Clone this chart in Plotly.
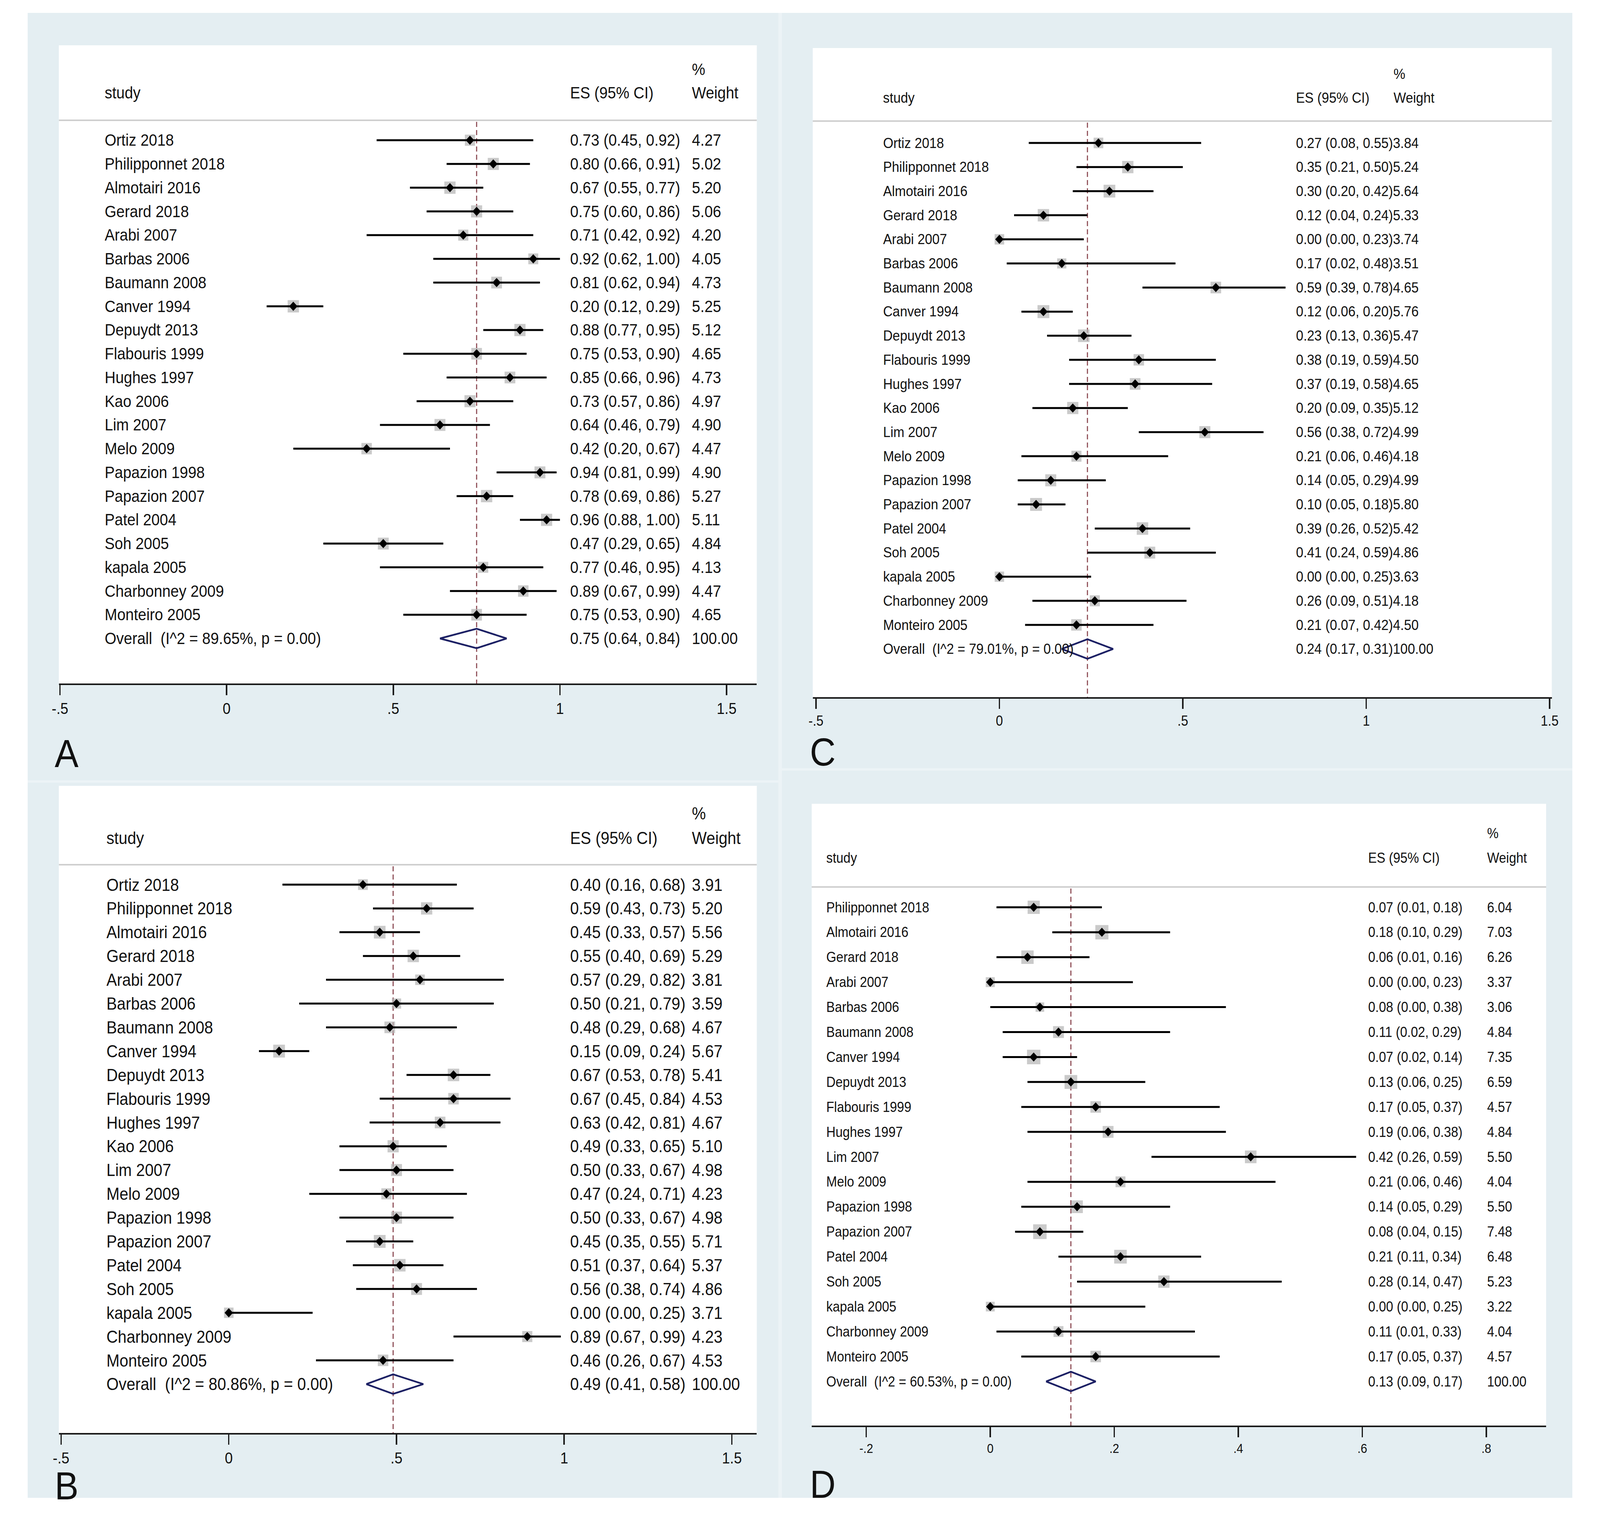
import math
import plotly.graph_objects as go

W, H = 4479, 3879

# ------------------------------------------------------------------ data
studies_abc = ["Ortiz 2018", "Philipponnet 2018", "Almotairi 2016", "Gerard 2018", "Arabi 2007",
               "Barbas 2006", "Baumann 2008", "Canver 1994", "Depuydt 2013", "Flabouris 1999",
               "Hughes 1997", "Kao 2006", "Lim 2007", "Melo 2009", "Papazion 1998", "Papazion 2007",
               "Patel 2004", "Soh 2005", "kapala 2005", "Charbonney 2009", "Monteiro 2005"]

es_A = [0.73, 0.80, 0.67, 0.75, 0.71, 0.92, 0.81, 0.20, 0.88, 0.75, 0.85, 0.73, 0.64, 0.42, 0.94, 0.78, 0.96, 0.47, 0.77, 0.89, 0.75]
lo_A = [0.45, 0.66, 0.55, 0.60, 0.42, 0.62, 0.62, 0.12, 0.77, 0.53, 0.66, 0.57, 0.46, 0.20, 0.81, 0.69, 0.88, 0.29, 0.46, 0.67, 0.53]
hi_A = [0.92, 0.91, 0.77, 0.86, 0.92, 1.00, 0.94, 0.29, 0.95, 0.90, 0.96, 0.86, 0.79, 0.67, 0.99, 0.86, 1.00, 0.65, 0.95, 0.99, 0.90]
w_A = [4.27, 5.02, 5.20, 5.06, 4.20, 4.05, 4.73, 5.25, 5.12, 4.65, 4.73, 4.97, 4.90, 4.47, 4.90, 5.27, 5.11, 4.84, 4.13, 4.47, 4.65]
overall_A = [0.75, 0.64, 0.84]
i2_A = 89.65

es_B = [0.40, 0.59, 0.45, 0.55, 0.57, 0.50, 0.48, 0.15, 0.67, 0.67, 0.63, 0.49, 0.50, 0.47, 0.50, 0.45, 0.51, 0.56, 0.00, 0.89, 0.46]
lo_B = [0.16, 0.43, 0.33, 0.40, 0.29, 0.21, 0.29, 0.09, 0.53, 0.45, 0.42, 0.33, 0.33, 0.24, 0.33, 0.35, 0.37, 0.38, 0.00, 0.67, 0.26]
hi_B = [0.68, 0.73, 0.57, 0.69, 0.82, 0.79, 0.68, 0.24, 0.78, 0.84, 0.81, 0.65, 0.67, 0.71, 0.67, 0.55, 0.64, 0.74, 0.25, 0.99, 0.67]
w_B = [3.91, 5.20, 5.56, 5.29, 3.81, 3.59, 4.67, 5.67, 5.41, 4.53, 4.67, 5.10, 4.98, 4.23, 4.98, 5.71, 5.37, 4.86, 3.71, 4.23, 4.53]
overall_B = [0.49, 0.41, 0.58]
i2_B = 80.86

es_C = [0.27, 0.35, 0.30, 0.12, 0.00, 0.17, 0.59, 0.12, 0.23, 0.38, 0.37, 0.20, 0.56, 0.21, 0.14, 0.10, 0.39, 0.41, 0.00, 0.26, 0.21]
lo_C = [0.08, 0.21, 0.20, 0.04, 0.00, 0.02, 0.39, 0.06, 0.13, 0.19, 0.19, 0.09, 0.38, 0.06, 0.05, 0.05, 0.26, 0.24, 0.00, 0.09, 0.07]
hi_C = [0.55, 0.50, 0.42, 0.24, 0.23, 0.48, 0.78, 0.20, 0.36, 0.59, 0.58, 0.35, 0.72, 0.46, 0.29, 0.18, 0.52, 0.59, 0.25, 0.51, 0.42]
w_C = [3.84, 5.24, 5.64, 5.33, 3.74, 3.51, 4.65, 5.76, 5.47, 4.50, 4.65, 5.12, 4.99, 4.18, 4.99, 5.80, 5.42, 4.86, 3.63, 4.18, 4.50]
overall_C = [0.24, 0.17, 0.31]
i2_C = 79.01

studies_D = ["Philipponnet 2018", "Almotairi 2016", "Gerard 2018", "Arabi 2007", "Barbas 2006",
             "Baumann 2008", "Canver 1994", "Depuydt 2013", "Flabouris 1999", "Hughes 1997",
             "Lim 2007", "Melo 2009", "Papazion 1998", "Papazion 2007", "Patel 2004", "Soh 2005",
             "kapala 2005", "Charbonney 2009", "Monteiro 2005"]
es_D = [0.07, 0.18, 0.06, 0.00, 0.08, 0.11, 0.07, 0.13, 0.17, 0.19, 0.42, 0.21, 0.14, 0.08, 0.21, 0.28, 0.00, 0.11, 0.17]
lo_D = [0.01, 0.10, 0.01, 0.00, 0.00, 0.02, 0.02, 0.06, 0.05, 0.06, 0.26, 0.06, 0.05, 0.04, 0.11, 0.14, 0.00, 0.01, 0.05]
hi_D = [0.18, 0.29, 0.16, 0.23, 0.38, 0.29, 0.14, 0.25, 0.37, 0.38, 0.59, 0.46, 0.29, 0.15, 0.34, 0.47, 0.25, 0.33, 0.37]
w_D = [6.04, 7.03, 6.26, 3.37, 3.06, 4.84, 7.35, 6.59, 4.57, 4.84, 5.50, 4.04, 5.50, 7.48, 6.48, 5.23, 3.22, 4.04, 4.57]
overall_D = [0.13, 0.09, 0.17]
i2_D = 60.53

ticks_abc = [-0.5, 0, 0.5, 1, 1.5]
ticklabels_abc = ["-.5", "0", ".5", "1", "1.5"]
ticks_D = [-0.2, 0, 0.2, 0.4, 0.6, 0.8]
ticklabels_D = ["-.2", "0", ".2", ".4", ".6", ".8"]

# ------------------------------------------------------------------ geometry (pixels)
FONT = "Liberation Sans"
panels = [
    dict(letter="A", studies=studies_abc, es=es_A, lo=lo_A, hi=hi_A, w=w_A, ov=overall_A, i2=i2_A,
         ticks=ticks_abc, ticktext=ticklabels_abc,
         x0=146, x1=2117, top=116, axis=1750, hline=308, row0=359, dy=60.75, zero=617, unit=943,
         lab_x=273, es_x=1588, wt_x=1932, pct_y=178, head_y=238, fs=42, tfs=40,
         let_x=132, let_y=1929, concat=False),
    dict(letter="B", studies=studies_abc, es=es_B, lo=lo_B, hi=hi_B, w=w_B, ov=overall_B, i2=i2_B,
         ticks=ticks_abc, ticktext=ticklabels_abc,
         x0=146, x1=2117, top=2012, axis=3669, hline=2214, row0=2265, dy=60.9, zero=623, unit=949,
         lab_x=278, es_x=1588, wt_x=1932, pct_y=2082, head_y=2145, fs=44, tfs=40,
         let_x=132, let_y=3804, concat=False),
    dict(letter="C", studies=studies_abc, es=es_C, lo=lo_C, hi=hi_C, w=w_C, ov=overall_C, i2=i2_C,
         ticks=ticks_abc, ticktext=ticklabels_abc,
         x0=2275, x1=4362, top=123, axis=1785, hline=310, row0=366, dy=61.7, zero=2799, unit=1038,
         lab_x=2472, es_x=3638, wt_x=3913, pct_y=189, head_y=250, fs=37, tfs=36,
         let_x=2265, let_y=1925, concat=True),
    dict(letter="D", studies=studies_D, es=es_D, lo=lo_D, hi=hi_D, w=w_D, ov=overall_D, i2=i2_D,
         ticks=ticks_D, ticktext=ticklabels_D,
         x0=2272, x1=4346, top=2058, axis=3650, hline=2271, row0=2323, dy=63.9, zero=2771, unit=1757,
         lab_x=2311, es_x=3841, wt_x=4177, pct_y=2133, head_y=2196, fs=36, tfs=33,
         let_x=2265, let_y=3800, concat=False),
]


def px(x):
    return x / W


def py(y):
    return 1 - y / H


fig = go.Figure()
shapes = []
annotations = []

BG = "#e4eef2"
shapes.append(dict(type="rect", xref="paper", yref="paper", x0=px(58), x1=px(4420), y0=py(3835), y1=py(33),
                   fillcolor="#ecf3f6", line=dict(width=0), layer="below"))
for (a, b, c, d) in [(58, 2178, 33, 1998), (58, 2178, 2004, 3835), (2188, 4420, 33, 1967), (2188, 4420, 1973, 3835)]:
    shapes.append(dict(type="rect", xref="paper", yref="paper", x0=px(a), x1=px(b), y0=py(d), y1=py(c),
                       fillcolor=BG, line=dict(width=0), layer="below"))

layout_axes = {}
for k, p in enumerate(panels):
    n = k + 1
    xa = "x" if n == 1 else f"x{n}"
    ya = "y" if n == 1 else f"y{n}"
    xname = "xaxis" if n == 1 else f"xaxis{n}"
    yname = "yaxis" if n == 1 else f"yaxis{n}"

    def row_of(pix, p=p):
        return (pix - p["row0"]) / p["dy"]

    # white plot box and header rule
    shapes.append(dict(type="rect", xref="paper", yref="paper", x0=px(p["x0"]), x1=px(p["x1"]),
                       y0=py(p["axis"]), y1=py(p["top"]), fillcolor="white", line=dict(width=0), layer="below"))
    shapes.append(dict(type="line", xref="paper", yref="paper", x0=px(p["x0"]), x1=px(p["x1"]),
                       y0=py(p["hline"]), y1=py(p["hline"]), line=dict(color="#cfcfcf", width=4), layer="below"))

    nst = len(p["studies"])
    rows = list(range(nst))
    ov_es, ov_lo, ov_hi = p["ov"]

    # dashed reference line at the overall estimate
    fig.add_trace(go.Scatter(x=[ov_es, ov_es], y=[row_of(p["hline"] + 4), row_of(p["axis"])],
                             mode="lines", line=dict(color="#8a4750", width=3, dash="13px,8px"),
                             xaxis=xa, yaxis=ya, hoverinfo="skip", showlegend=False))
    # weight boxes
    fig.add_trace(go.Scatter(x=p["es"], y=rows, mode="markers",
                             marker=dict(symbol="square", size=[13.8 * math.sqrt(v) for v in p["w"]],
                                         color="#b3b3b3", line=dict(width=0)),
                             xaxis=xa, yaxis=ya, hoverinfo="skip", showlegend=False))
    # confidence intervals
    cx, cy = [], []
    for r, l, h in zip(rows, p["lo"], p["hi"]):
        cx += [l, h, None]
        cy += [r, r, None]
    fig.add_trace(go.Scatter(x=cx, y=cy, mode="lines", line=dict(color="black", width=5),
                             xaxis=xa, yaxis=ya, hoverinfo="skip", showlegend=False))
    # point estimates
    fig.add_trace(go.Scatter(x=p["es"], y=rows, mode="markers",
                             marker=dict(symbol="diamond", size=18, color="black", line=dict(width=0)),
                             xaxis=xa, yaxis=ya, hoverinfo="skip", showlegend=False))
    # overall diamond
    ro = nst
    hh = 25 / p["dy"]
    fig.add_trace(go.Scatter(x=[ov_lo, ov_es, ov_hi, ov_es, ov_lo], y=[ro, ro - hh, ro, ro + hh, ro],
                             mode="lines", line=dict(color="#1c2064", width=4.5),
                             xaxis=xa, yaxis=ya, hoverinfo="skip", showlegend=False))

    rlo = (p["x0"] - p["zero"]) / p["unit"] - 0.004
    rhi = (p["x1"] - p["zero"]) / p["unit"]
    layout_axes[xname] = dict(domain=[px(p["x0"]), px(p["x1"])], range=[rlo, rhi], anchor=ya,
                              showline=True, linecolor="#1a1a1a", linewidth=4, ticks="outside",
                              ticklen=26, tickwidth=4, tickcolor="#1a1a1a", tickvals=p["ticks"],
                              ticktext=p["ticktext"], tickfont=dict(family=FONT, size=p["tfs"], color="#111"),
                              showgrid=False, zeroline=False, fixedrange=True)
    layout_axes[yname] = dict(domain=[py(p["axis"]), py(p["top"])], anchor=xa,
                              range=[row_of(p["axis"]), row_of(p["top"])], visible=False,
                              showgrid=False, zeroline=False, fixedrange=True)

    fnt = dict(family=FONT, size=p["fs"], color="#111")

    def ann(text, xpix, yrow, ya=ya, fnt=fnt):
        annotations.append(dict(text=text, x=px(xpix), xref="paper", y=yrow, yref=ya,
                                xanchor="left", yanchor="middle", showarrow=False, font=fnt))

    ann("study", p["lab_x"], row_of(p["head_y"]))
    ann("ES (95% CI)", p["es_x"], row_of(p["head_y"]))
    ann("%", p["wt_x"], row_of(p["pct_y"]))
    ann("Weight", p["wt_x"], row_of(p["head_y"]))

    for r, name, e, l, h, wv in zip(rows, p["studies"], p["es"], p["lo"], p["hi"], p["w"]):
        ann(name, p["lab_x"], r)
        ci = f"{e:.2f} ({l:.2f}, {h:.2f})"
        if p["concat"]:
            ann(ci + f"{wv:.2f}", p["es_x"], r)
        else:
            ann(ci, p["es_x"], r)
            ann(f"{wv:.2f}", p["wt_x"], r)
    ann(f"Overall  (I^2 = {p['i2']:.2f}%, p = 0.00)", p["lab_x"], ro)
    ov_ci = f"{ov_es:.2f} ({ov_lo:.2f}, {ov_hi:.2f})"
    if p["concat"]:
        ann(ov_ci + "100.00", p["es_x"], ro)
    else:
        ann(ov_ci, p["es_x"], ro)
        ann("100.00", p["wt_x"], ro)

    annotations.append(dict(text=p["letter"], x=px(p["let_x"]), y=py(p["let_y"]), xref="paper", yref="paper",
                            xanchor="left", yanchor="middle", showarrow=False,
                            font=dict(family=FONT, size=100, color="#111")))

fig.update_layout(width=W, height=H, margin=dict(l=0, r=0, t=0, b=0),
                  paper_bgcolor="white", plot_bgcolor="rgba(0,0,0,0)",
                  shapes=shapes, annotations=annotations, showlegend=False, hovermode=False,
                  **layout_axes)

# the browser viewport may be narrower than the requested size: scale the whole drawing to fit it
post = """
document.documentElement.style.margin='0';
document.documentElement.style.overflow='hidden';
document.body.style.margin='0';
document.body.style.overflow='hidden';
var gd = document.getElementsByClassName('plotly-graph-div')[0];
var sx = window.innerWidth / 4479, sy = window.innerHeight / 3879;
gd.style.transformOrigin = '0 0';
gd.style.transform = 'scale(' + sx + ',' + sy + ')';
"""
fig.write_html("out.html", post_script=post, config={"displayModeBar": False, "staticPlot": True})
